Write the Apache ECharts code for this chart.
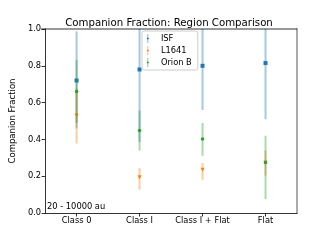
<!DOCTYPE html>
<html>
<head>
<meta charset="utf-8">
<script src="https://cdn.jsdelivr.net/npm/echarts@6/dist/echarts.min.js"></script>
<style>html,body{margin:0;padding:0;background:#fff}#c{width:330px;height:240px}</style>
</head>
<body>
<div id="c"></div>
<script>
var categories = ['Class 0', 'Class I', 'Class I + Flat', 'Flat'];
var seriesNames = ['ISF', 'L1641', 'Orion B'];
var isfValues = [0.72, 0.78, 0.80, 0.815];
var isfLower = [0.46, 0.386, 0.56, 0.51];
var isfUpper = [0.987, 1.17, 1.04, 1.12];
var l1641Values = [0.53, 0.194, 0.235, 0.275];
var l1641Lower = [0.378, 0.127, 0.181, 0.204];
var l1641Upper = [0.68, 0.245, 0.272, 0.339];
var orionValues = [0.661, 0.449, 0.402, 0.275];
var orionLower = [0.489, 0.339, 0.311, 0.076];
var orionUpper = [0.832, 0.556, 0.489, 0.42];
var yTicks = [0.0, 0.2, 0.4, 0.6, 0.8, 1.0];
var annotation = '20 - 10000 au';
var titleText = 'Companion Fraction: Region Comparison';
var yLabel = 'Companion Fraction';

var colors = ['#1f77b4', '#ff7f0e', '#2ca02c'];
var FONT = 'DejaVu Sans';

function errData(lo, hi) {
  return categories.map(function (c, i) { return [i, lo[i], hi[i]]; });
}
function ptData(v) {
  return categories.map(function (c, i) { return [i, v[i]]; });
}
function errSeries(lo, hi, color, z) {
  return {
    type: 'custom',
    clip: true,
    z: z,
    silent: true,
    data: errData(lo, hi),
    renderItem: function (params, api) {
      var p1 = api.coord([api.value(0), api.value(1)]);
      var p2 = api.coord([api.value(0), api.value(2)]);
      return {
        type: 'line',
        shape: { x1: p1[0], y1: p1[1], x2: p2[0], y2: p2[1] },
        style: { stroke: color, lineWidth: 2, opacity: 0.4 }
      };
    }
  };
}
var iconPath = 'path://M4.4,0 L5.6,0 L5.6,20 L4.4,20 Z M3,8.5 L7,8.5 L7,11.5 L3,11.5 Z';

var chart = echarts.init(document.getElementById('c'), null, { renderer: 'canvas' });
chart.setOption({
  animation: false,
  grid: { left: 41, right: 33, top: 29, bottom: 27, show: false },
  legend: {
    orient: 'vertical', left: 142, top: 31,
    padding: [3, 6, 3, 5], itemGap: 3,
    itemWidth: 10, itemHeight: 9,
    borderColor: '#cccccc', borderWidth: 1, borderRadius: 2,
    backgroundColor: 'rgba(255,255,255,0.8)',
    textStyle: { fontFamily: FONT, fontSize: 8.3, color: '#000', padding: [0, 0, 0, 3] },
    data: seriesNames.map(function (n) { return { name: n, icon: iconPath }; })
  },
  xAxis: {
    type: 'category', data: categories, boundaryGap: true,
    axisLine: { show: true, onZero: false, lineStyle: { color: '#000', width: 0.8 } },
    axisTick: { show: true, alignWithLabel: true, interval: 0, length: 3.5, lineStyle: { color: '#000', width: 0.8 } },
    axisLabel: { fontFamily: FONT, fontSize: 8.3, color: '#000', margin: 4, interval: 0 },
    splitLine: { show: false }
  },
  yAxis: [{
    type: 'value', min: 0, max: 1.0, interval: 0.2,
    name: yLabel, nameLocation: 'middle', nameGap: 19,
    nameTextStyle: { fontFamily: FONT, fontSize: 8.5, color: '#000' },
    axisLine: { show: true, lineStyle: { color: '#000', width: 0.8 } },
    axisTick: { show: true, length: 3.5, lineStyle: { color: '#000', width: 0.8 } },
    axisLabel: {
      fontFamily: FONT, fontSize: 8.3, color: '#000', margin: 4,
      formatter: function (v) { return v.toFixed(1); }
    },
    splitLine: { show: false }
  }, {
    type: 'value', min: 0, max: 1.0, position: 'right',
    axisLine: { show: true, lineStyle: { color: '#aaaaaa', width: 2 } },
    axisTick: { show: false }, axisLabel: { show: false }, splitLine: { show: false }
  }],
  graphic: [{
    type: 'line', shape: { x1: 41, y1: 29, x2: 297, y2: 29 },
    style: { stroke: '#000', lineWidth: 0.8 }, z: 10
  }, {
    type: 'text', x: 169, y: 23,
    style: { text: titleText, font: '10.2px "DejaVu Sans"', fill: '#000', textAlign: 'center', textVerticalAlign: 'middle' }, z: 10
  }, {
    type: 'text', left: 47, top: 203,
    style: { text: annotation, font: '8.3px "DejaVu Sans"', fill: '#000' }, z: 10
  }],
  series: [
    errSeries(isfLower, isfUpper, colors[0], 2),
    { name: 'ISF', type: 'scatter', data: ptData(isfValues), symbol: 'rect', symbolSize: 4, itemStyle: { color: colors[0], opacity: 1 }, z: 3 },
    errSeries(l1641Lower, l1641Upper, colors[1], 4),
    { name: 'L1641', type: 'scatter', data: ptData(l1641Values), symbol: 'triangle', symbolRotate: 180, symbolSize: 4, itemStyle: { color: colors[1], opacity: 1 }, z: 5 },
    errSeries(orionLower, orionUpper, colors[2], 6),
    { name: 'Orion B', type: 'scatter', data: ptData(orionValues), symbol: 'circle', symbolSize: 3.5, itemStyle: { color: colors[2], opacity: 1 }, z: 7 }
  ]
});
</script>
</body>
</html>
